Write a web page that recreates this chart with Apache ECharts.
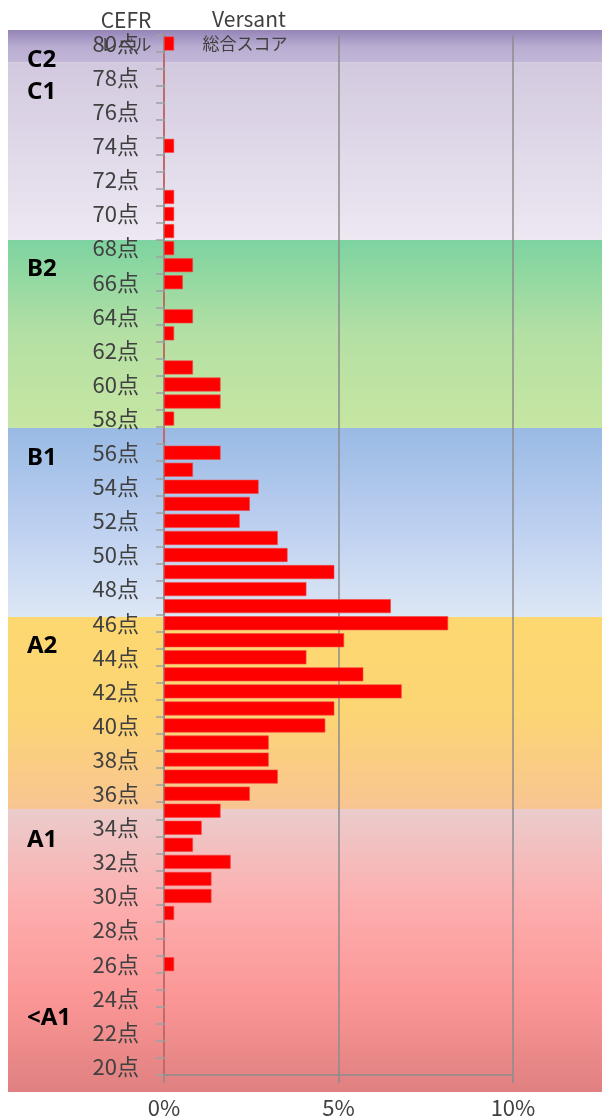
<!DOCTYPE html>
<html>
<head>
<meta charset="utf-8">
<script src="https://cdn.jsdelivr.net/npm/echarts@6/dist/echarts.min.js"></script>
<style>
  html, body { margin: 0; padding: 0; background: #fff; }
  #versantChart { width: 602px; height: 1119px; }
</style>
</head>
<body>
<div id="versantChart"></div>
<script>
// Versant 総合スコア (20点 ~ 80点)
var scoreLabels = [
    '20点', '21点', '22点', '23点', '24点', '25点', '26点', '27点', '28点', '29点',
    '30点', '31点', '32点', '33点', '34点', '35点', '36点', '37点', '38点', '39点',
    '40点', '41点', '42点', '43点', '44点', '45点', '46点', '47点', '48点', '49点',
    '50点', '51点', '52点', '53点', '54点', '55点', '56点', '57点', '58点', '59点',
    '60点', '61点', '62点', '63点', '64点', '65点', '66点', '67点', '68点', '69点',
    '70点', '71点', '72点', '73点', '74点', '75点', '76点', '77点', '78点', '79点',
    '80点'
];

// 각 점수의 비율 (%)
var shareList = [
    0, 0, 0, 0, 0, 0, 0.29, 0, 0, 0.29,
    1.36, 1.36, 1.91, 0.83, 1.08, 1.62, 2.46, 3.26, 3.0, 3.0,
    4.62, 4.88, 6.81, 5.71, 4.08, 5.16, 8.14, 6.50, 4.08, 4.88,
    3.54, 3.26, 2.17, 2.46, 2.71, 0.83, 1.62, 0, 0.29, 1.62,
    1.62, 0.83, 0, 0.29, 0.83, 0, 0.54, 0.83, 0.29, 0.29,
    0.29, 0.29, 0, 0, 0.29, 0, 0, 0, 0, 0,
    0.29
];

// x축 눈금
var xTicks = [0, 5, 10];

// CEFR 레벨 이름
var cefrLevels = ['C2', 'C1', 'B2', 'B1', 'A2', 'A1', '<A1'];

// ---- 배경 (CEFR 밴드) 위치/색 ----
var bandLeft = 8;
var bandRight = 602;
var bands = [
    { y0: 30, y1: 63, stops: ['#9484b8', '#b9acd1', '#c3b8d8'] },
    { y0: 63, y1: 240, stops: ['#d3c9df', '#e0d9e9', '#ede8f2'] },
    { y0: 240, y1: 428, stops: ['#7dd3a0', '#b4e0a4', '#c6e6a2'] },
    { y0: 428, y1: 617, stops: ['#99bae4', '#bccff0', '#dde7f5'] },
    { y0: 617, y1: 809, stops: ['#fdd870', '#fcd574', '#f8c592'] },
    { y0: 809, y1: 1092, stops: ['#ebcccc', '#fdaeae', '#fb9696', '#e08080'] }
];
var levelLabelY = [60, 92, 269, 458, 646, 840, 1018];

var graphicList = [];
bands.forEach(function (b) {
    var colorStops = b.stops.map(function (c, i) {
        return { offset: i / (b.stops.length - 1), color: c };
    });
    graphicList.push({
        type: 'rect',
        z: -10,
        shape: { x: bandLeft, y: b.y0, width: bandRight - bandLeft, height: b.y1 - b.y0 },
        style: { fill: new echarts.graphic.LinearGradient(0, 0, 0, 1, colorStops) },
        silent: true
    });
});
// C2 / C1 사이 선
graphicList.push({
    type: 'rect', z: -9,
    shape: { x: bandLeft, y: 62, width: bandRight - bandLeft, height: 1.5 },
    style: { fill: '#d6cde3' },
    silent: true
});

cefrLevels.forEach(function (lv, i) {
    graphicList.push({
        type: 'text', z: 100,
        x: 27, y: levelLabelY[i],
        style: {
            text: lv,
            fill: '#000',
            font: 'bold 24px "Noto Sans", "DejaVu Sans", sans-serif',
            verticalAlign: 'middle'
        }
    });
});

// 상단 헤더
var headerFont = '"Noto Sans CJK JP", "Noto Sans", sans-serif';
graphicList.push(
    { type: 'text', z: 100, x: 126, y: 20, style: { text: 'CEFR', fill: '#404040', font: '21px ' + headerFont, align: 'center', verticalAlign: 'middle' } },
    { type: 'text', z: 100, x: 126, y: 45, style: { text: 'レベル', fill: '#404040', font: '17px ' + headerFont, align: 'center', verticalAlign: 'middle' } },
    { type: 'text', z: 100, x: 249, y: 19, style: { text: 'Versant', fill: '#404040', font: '21px ' + headerFont, align: 'center', verticalAlign: 'middle' } },
    { type: 'text', z: 100, x: 245, y: 44, style: { text: '総合スコア', fill: '#404040', font: '17px ' + headerFont, align: 'center', verticalAlign: 'middle' } }
);

var versantChart = echarts.init(document.getElementById('versantChart'));

var option = {
    animation: false,
    backgroundColor: '#fff',
    grid: {
        left: 164,
        right: 89,
        top: 35,
        bottom: 44,
        containLabel: false
    },
    graphic: graphicList,
    xAxis: {
        type: 'value',
        min: xTicks[0],
        max: xTicks[xTicks.length - 1],
        interval: 5,
        axisLine: { show: true, lineStyle: { color: '#8c8c8c', width: 1.5 } },
        axisTick: { show: true, length: 8, lineStyle: { color: '#8c8c8c', width: 1.5 } },
        axisLabel: {
            formatter: '{value}%',
            color: '#404040',
            fontSize: 22,
            margin: 22,
            fontFamily: '"Noto Sans CJK JP", "Noto Sans", sans-serif'
        },
        splitLine: { show: true, lineStyle: { color: '#8c8c8c', width: 1.5 } }
    },
    yAxis: {
        type: 'category',
        data: scoreLabels,
        boundaryGap: true,
        axisLine: { show: true, lineStyle: { color: '#8c8c8c', width: 1.5 } },
        axisTick: { show: true, interval: 0, length: 8, lineStyle: { color: '#a0a0a0', width: 1.5 } },
        axisLabel: {
            interval: 1,
            color: '#404040',
            fontSize: 22,
            margin: 25,
            fontFamily: '"Noto Sans CJK JP", "Noto Sans", sans-serif'
        },
        splitLine: { show: false }
    },
    series: [
        {
            name: 'Versant',
            type: 'bar',
            data: shareList,
            barCategoryGap: '18%',
            itemStyle: {
                color: '#ff0000',
                borderColor: '#f24848',
                borderWidth: 0.6
            }
        }
    ]
};

versantChart.setOption(option);
</script>
</body>
</html>
